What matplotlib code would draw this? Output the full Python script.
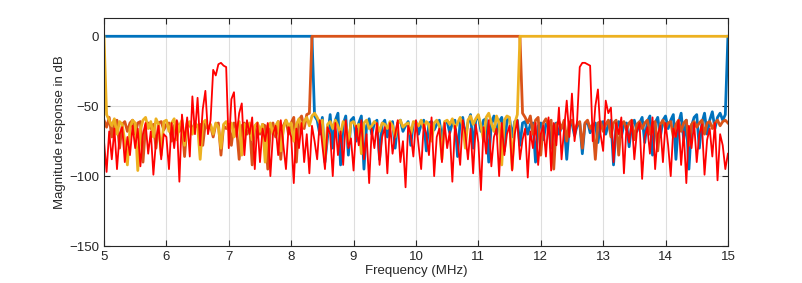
import numpy as np
import matplotlib
matplotlib.use('Agg')
import matplotlib.pyplot as plt

plt.rcParams['font.family'] = ['Liberation Sans', 'DejaVu Sans']

# frequency grid, 1/24 MHz steps (band edges at 8.333 and 11.667 MHz)
freq = np.linspace(5, 15, 241)

# filter 1 (blue): passband 5 - 8.33 MHz
filt1 = ([0.0] * 81 +
         [-57, -60, -70,
          -58, -90, -72, -56, -80, -60, -55, -92, -63, -57, -85, -60,
          -58, -75, -62, -57, -95, -64, -59, -70, -62, -60, -88, -63,
          -60, -72, -63, -61, -80, -62, -60, -68, -64, -61, -78, -62,
          -61, -70, -63, -60, -82, -62, -61, -67, -63, -60, -74, -62,
          -61, -69, -62, -60, -86, -61, -58, -72, -62, -56, -80, -60,
          -57, -68, -60, -59, -90, -62, -57, -70, -61, -58, -82, -60,
          -59, -72, -61, -60, -78, -62, -61, -70, -63, -62, -90, -64,
          -62, -74, -63, -61, -80, -64, -62, -70, -65, -63, -88, -64,
          -62, -71, -64, -62, -84, -63, -61, -69, -64, -62, -76, -63,
          -61, -70, -63, -60, -92, -64, -61, -72, -63, -62, -79, -63,
          -60, -68, -62, -58, -76, -61, -57, -85, -62, -58, -72, -60,
          -57, -66, -60, -56, -88, -62, -55, -74, -60, -95, -64, -58,
          -56, -80, -62, -55, -70, -60, -54, -66, -58, -55, -60, -56,
          0])

# filter 2 (orange): passband 8.33 - 11.67 MHz
filt2 = ([-60, -65, -58, -72, -62, -60, -80, -63, -61, -68, -62, -60,
          -70, -62, -61, -90, -64, -62, -66, -63, -80, -62, -61, -67,
          -63, -62, -75, -64, -61, -68, -63, -86, -62, -64, -66, -62,
          -65, -63, -78, -62, -66, -64, -72, -63, -62, -85, -64, -66,
          -63, -78, -62, -66, -88, -64, -62, -70, -63, -92, -65, -62,
          -70, -63, -64, -95, -66, -62, -72, -61, -88, -64, -60, -70,
          -62, -58, -90, -60, -57, -66, -56, -55] +
         [0.0] * 81 +
         [-55, -58, -62, -57, -70, -60, -58, -85, -62, -59, -64,
          -60, -95, -63, -61, -66, -60, -75, -62, -60, -68, -63, -61,
          -80, -62, -60, -66, -63, -88, -62, -61, -68, -63, -60, -72,
          -62, -60, -85, -63, -61, -67, -62, -60, -74, -63, -61, -66,
          -62, -60, -70, -62, -61, -82, -63, -60, -66, -62, -61, -72,
          -63, -60, -68, -62, -60, -78, -63, -61, -65, -62, -60, -70,
          -62, -61, -66, -62, -60, -64, -61, -60, -62])

# filter 3 (yellow): passband 11.67 - 15 MHz
filt3 = ([0,
          -56, -60, -64, -59, -70, -61, -63, -75, -92, -66, -60,
          -62, -96, -67, -60, -58, -66, -61, -72, -59, -63, -85, -61,
          -60, -68, -62, -59, -74, -64, -60, -78, -63, -61, -70, -62,
          -64, -88, -62, -60, -66, -63, -70, -62, -65, -80, -63, -61,
          -67, -62, -72, -64, -61, -85, -63, -66, -62, -74, -64, -62,
          -68, -63, -90, -65, -62, -70, -64, -61, -82, -66, -60, -64,
          -62, -75, -63, -59, -66, -61, -58, -64, -57, -55, -58, -62,
          -60, -88, -63, -61, -66, -60, -64, -70, -61, -63, -78, -62,
          -61, -65, -63, -84, -62, -60, -66, -64, -61, -63, -68, -62,
          -63, -66, -61, -64, -72, -62, -60, -65, -63, -62, -70, -61,
          -62, -64, -60, -66, -61, -63, -75, -62, -60, -64, -88, -61,
          -60, -63, -59, -66, -62, -58, -64, -80, -60, -57, -63, -59,
          -56, -64, -75, -58, -55, -62, -68, -57, -62, -92, -60, -57,
          -58, -95, -62, -56] +
         [0.0] * 81)

# received signal spectrum (red)
signal = [-75, -97, -68, -88, -66, -95, -70, -65, -90, -72, -85, -64,
          -80, -66, -93, -70, -62, -84, -68, -99, -75, -64, -88, -70,
          -72, -95, -62, -80, -60, -104, -56, -75, -58, -86, -43, -70,
          -44, -78, -52, -39, -70, -60, -24, -28, -20, -19, -21, -22,
          -80, -45, -40, -72, -55, -48, -85, -60, -70, -58, -95, -62,
          -90, -66, -75, -62, -100, -70, -64, -85, -60, -78, -95, -65,
          -72, -105, -66, -80, -62, -90, -70, -98, -64, -75, -88, -60,
          -78, -95, -65, -70, -100, -62, -85, -68, -92, -60, -80, -73,
          -96, -64, -78, -60, -88, -70, -105, -66, -80, -62, -92, -72,
          -65, -98, -62, -84, -70, -60, -90, -75, -108, -64, -70, -86,
          -60, -78, -95, -63, -70, -85, -58, -100, -72, -66, -90, -62,
          -80, -68, -104, -64, -75, -92, -60, -70, -88, -66, -98, -63,
          -76, -110, -65, -84, -60, -93, -72, -66, -100, -62, -85, -70,
          -64, -96, -70, -60, -88, -74, -66, -101, -68, -80, -62, -92,
          -70, -64, -86, -58, -96, -62, -78, -51, -88, -66, -46, -72,
          -41, -75, -60, -22, -19, -19, -20, -21, -75, -50, -38, -70,
          -82, -46, -55, -51, -90, -62, -70, -58, -98, -64, -76, -60,
          -88, -68, -62, -102, -72, -65, -84, -58, -95, -70, -64, -90,
          -62, -78, -100, -66, -72, -60, -92, -68, -105, -64, -80, -62,
          -90, -70, -63, -99, -74, -66, -86, -62, -103, -70, -78, -95, -84]

fig = plt.figure(figsize=(8.03, 2.83), dpi=100)
ax = fig.add_axes([0.1295, 0.1307, 0.777, 0.8053])

ax.plot(freq, filt1, color='#0072BD', lw=2)
ax.plot(freq, filt2, color='#D95319', lw=2)
ax.plot(freq, filt3, color='#EDB120', lw=2)
ax.plot(freq, signal, color='#FF0000', lw=1.3)

ax.set_xlim(5, 15)
ax.set_ylim(-150, 13)
ax.set_xticks(range(5, 16))
ax.set_yticks([-150, -100, -50, 0])
ax.grid(True, color='#dedede', lw=0.8)
ax.set_axisbelow(True)
ax.tick_params(direction='in', top=True, right=True, length=4,
               labelsize=9.5, colors='#262626')
for s in ax.spines.values():
    s.set_color('#262626')
    s.set_linewidth(0.8)
ax.set_xlabel('Frequency (MHz)', fontsize=9.5, color='#262626', labelpad=1.5)
ax.set_ylabel('Magnitude response in dB', fontsize=9.5, color='#262626',
              labelpad=2)

fig.savefig('out.png', dpi=100)
plt.close()
